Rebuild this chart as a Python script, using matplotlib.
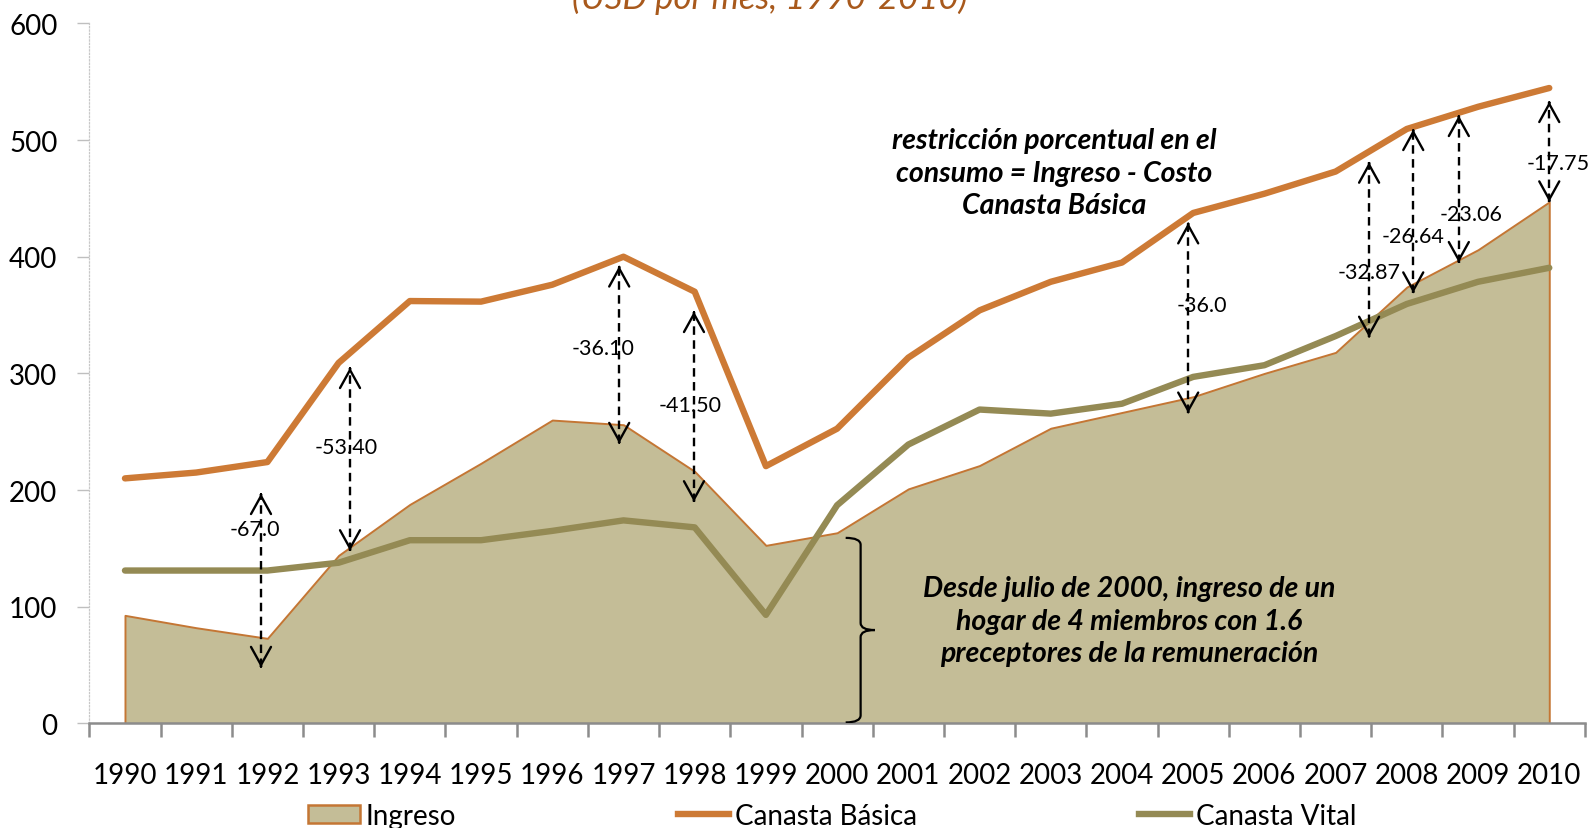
import numpy as np
import matplotlib
matplotlib.use('Agg')
import matplotlib.pyplot as plt
from matplotlib.patches import Patch, PathPatch
from matplotlib.lines import Line2D
from matplotlib.path import Path

# ------------------------- Data -------------------------
years = ['1990', '1991', '1992', '1993', '1994', '1995', '1996', '1997', '1998', '1999', '2000',
         '2001', '2002', '2003', '2004', '2005', '2006', '2007', '2008', '2009', '2010']
ingreso = [92.6, 82, 72.9, 144, 187.7, 223, 260, 256, 216, 152.6, 163.4,
           201, 221, 253, 266.5, 280, 300, 318, 374, 406, 447]
canasta_basica = [210, 215, 224, 309, 362, 361.5, 376, 400, 370, 220.5, 252.6,
                  313.5, 354, 378.5, 395, 437.5, 454, 473, 509.5, 528.5, 544.6]
canasta_vital = [131, 131, 131, 137.7, 157, 157, 165, 174, 168, 93, 187,
                 239, 269, 265.5, 274, 297, 307, 332, 359.5, 378.5, 390.5]

# restriccion porcentual (arrow labels) and the arrows that go with them
gap_labels = ['-67.0', '-53.40', '-36.10', '-41.50', '-36.0', '-32.87', '-26.64', '-23.06', '-17.75']
gap_x = [1.91, 3.16, 6.94, 7.99, 14.93, 17.47, 18.09, 18.73, 20.0]
gap_top = [197, 305, 392, 353, 429, 481, 509, 521, 533]
gap_bottom = [48, 148, 240, 190, 266, 331, 369, 395, 447]
label_x = [1.82, 3.1, 6.72, 7.93, 15.12, 17.47, 18.09, 18.9, 20.13]
label_y = [167, 237, 322, 273, 359, 387, 418, 437, 480]

# ------------------------- Style -------------------------
plt.rcParams['font.family'] = ['Lato', 'DejaVu Sans']

AREA = '#C4BD97'
AREA_EDGE = '#C47634'
ORANGE = '#CD7A35'
OLIVE = '#948A54'
TITLE = '#A8591C'
AXIS_GRAY = '#8C8C8C'

fig = plt.figure(figsize=(15.93, 8.29), dpi=100)
ax = fig.add_axes([0.0561, 0.1262, 0.9388, 0.8444])

x = np.arange(len(years))

ax.fill_between(x, 0, ingreso, facecolor=AREA, edgecolor=AREA_EDGE, linewidth=1.4, zorder=1)
ax.plot(x, canasta_basica, color=ORANGE, lw=4.6, solid_capstyle='round', solid_joinstyle='round', zorder=2)
ax.plot(x, canasta_vital, color=OLIVE, lw=4.6, solid_capstyle='round', solid_joinstyle='round', zorder=2)

# arrows: dashed shaft + open heads
for i in range(len(gap_labels)):
    ax.text(label_x[i], label_y[i], gap_labels[i], fontsize=15.5, ha='center', va='center', zorder=4,
            bbox=dict(boxstyle='square,pad=0.25', fc='white', ec='none'))
    ax.plot([gap_x[i], gap_x[i]], [gap_bottom[i], gap_top[i]], color='k', lw=1.7,
            dashes=(3.6, 2.3), zorder=5)
    style = '->,head_length=1.3,head_width=0.72'
    ax.annotate('', xy=(gap_x[i], gap_top[i]), xytext=(gap_x[i], gap_top[i] - 1),
                arrowprops=dict(arrowstyle=style, lw=1.7, color='k', shrinkA=0, shrinkB=0), zorder=5)
    ax.annotate('', xy=(gap_x[i], gap_bottom[i]), xytext=(gap_x[i], gap_bottom[i] + 1),
                arrowprops=dict(arrowstyle=style, lw=1.7, color='k', shrinkA=0, shrinkB=0), zorder=5)

# brace next to 2000
bx, bl, br = 10.33, 10.12, 10.53
verts = [(bl, 159), (bx, 159), (bx, 153),
         (bx, 86),
         (bx, 80), (br, 80),
         (bx, 80), (bx, 74),
         (bx, 7),
         (bx, 0.8), (bl, 0.8)]
codes = [Path.MOVETO, Path.CURVE3, Path.CURVE3,
         Path.LINETO,
         Path.CURVE3, Path.CURVE3,
         Path.CURVE3, Path.CURVE3,
         Path.LINETO,
         Path.CURVE3, Path.CURVE3]
ax.add_patch(PathPatch(Path(verts, codes), fill=False, ec='k', lw=1.6, zorder=4))

ax.text(14.1, 88, 'Desde julio de 2000, ingreso de un\nhogar de 4 miembros con 1.6\npreceptores de la remuneración',
        fontsize=20.5, fontweight='bold', style='italic', ha='center', va='center', linespacing=1.3, zorder=4)
ax.text(13.05, 472, 'restricción porcentual en el\nconsumo = Ingreso - Costo\nCanasta Básica',
        fontsize=20.5, fontweight='bold', style='italic', ha='center', va='center', linespacing=1.3, zorder=4)

# axes
ax.set_xlim(-0.5, 20.5)
ax.set_ylim(0, 600)
ax.set_yticks([0, 100, 200, 300, 400, 500, 600])
ax.set_xticks(x)
ax.set_xticklabels(years)
ax.set_xticks(np.arange(-0.5, 21, 1), minor=True)
ax.tick_params(axis='x', which='major', length=0, labelsize=20, pad=28)
ax.tick_params(axis='x', which='minor', length=10, width=1.8, color=AXIS_GRAY, direction='out')
ax.tick_params(axis='y', length=9, width=1, color='#BFBFBF', labelsize=20, pad=14)

for s in ['top', 'right']:
    ax.spines[s].set_visible(False)
ax.spines['bottom'].set_color(AXIS_GRAY)
ax.spines['bottom'].set_linewidth(1.8)
ax.spines['bottom'].set_zorder(3)
ax.spines['left'].set_color('#C8C8C8')
ax.spines['left'].set_linewidth(0.9)
ax.spines['left'].set_linestyle(':')

fig.text(0.483, 0.989, '(USD por mes, 1990-2010)', fontsize=25, style='italic', color=TITLE,
         ha='center', va='baseline')

handles = [Patch(facecolor=AREA, edgecolor=AREA_EDGE, linewidth=1.8),
           Line2D([], [], color=ORANGE, lw=4.6),
           Line2D([], [], color=OLIVE, lw=4.6)]
fig.legend(handles, ['Ingreso', 'Canasta Básica', 'Canasta Vital'], loc='center',
           bbox_to_anchor=(0.5225, 0.015), ncol=3, frameon=False, fontsize=20,
           handlelength=1.85, handleheight=0.6, handletextpad=0.2, columnspacing=8.0)

fig.savefig('out.png', dpi=100)
